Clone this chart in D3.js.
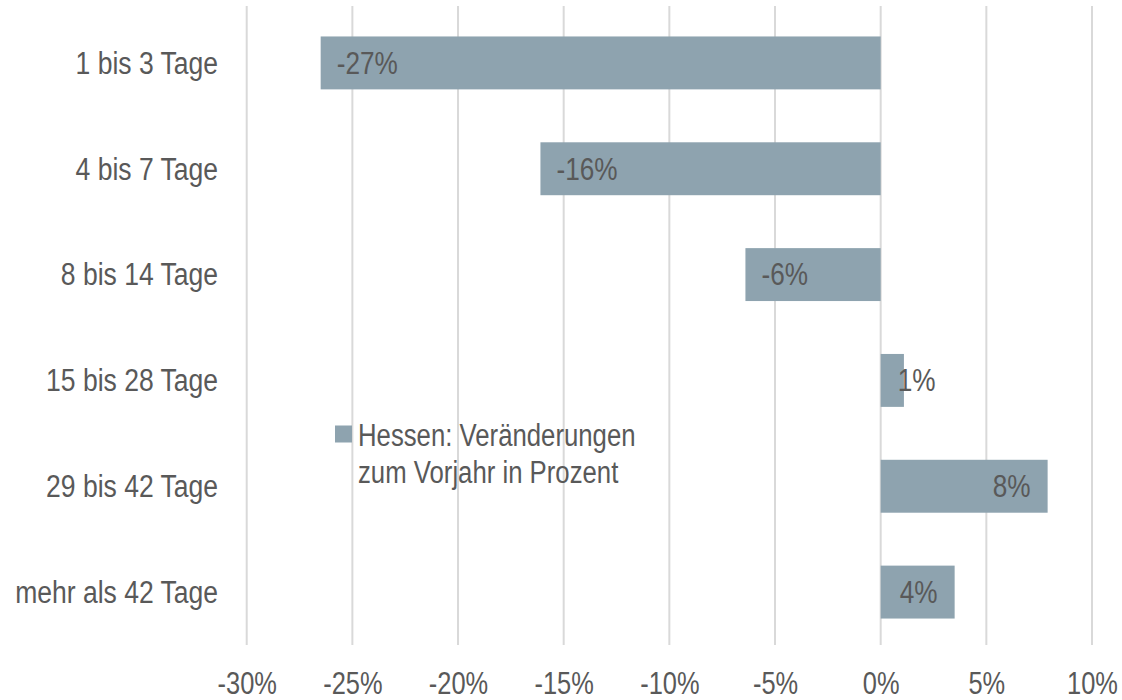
<!DOCTYPE html>
<html>
<head>
<meta charset="utf-8">
<script src="https://cdn.jsdelivr.net/npm/d3@7"></script>
<style>
  body { margin: 0; background: #fff; }
  text { font-family: "Liberation Sans Narrow", "Arial Narrow", "Liberation Sans", sans-serif; fill: #595959; }
</style>
</head>
<body>
<div id="chart_area"></div>
<script>
// categories and values (share of change vs. previous year)
var categories = ["1 bis 3 Tage", "4 bis 7 Tage", "8 bis 14 Tage", "15 bis 28 Tage", "29 bis 42 Tage", "mehr als 42 Tage"];
var values = [-0.265, -0.161, -0.064, 0.011, 0.079, 0.035];
var valueLabels = ["-27%", "-16%", "-6%", "1%", "8%", "4%"];
var ticks = [-0.30, -0.25, -0.20, -0.15, -0.10, -0.05, 0, 0.05, 0.10];
var legendLines = ["Hessen: Veränderungen", "zum Vorjahr in Prozent"];

var width = 1122, height = 700;
var barColor = "#8ea3af";
var narrowFactor = 0.845; // no narrow font installed, squeeze the regular one

var svg = d3.select("#chart_area").append("svg")
    .attr("width", width)
    .attr("height", height);

// squeeze text horizontally so it looks like a condensed face
function narrow(sel, f) {
    sel.each(function() {
        var w = this.getComputedTextLength();
        d3.select(this)
            .attr("textLength", w * (f || narrowFactor))
            .attr("lengthAdjust", "spacingAndGlyphs");
    });
}

// scales
var xScale = d3.scaleLinear()
    .domain([-0.30, 0.10])
    .range([246.7, 1092]);
var yScale = d3.scaleBand()
    .domain(categories)
    .range([10, 645])
    .paddingInner(0.5)
    .paddingOuter(0.25);

// vertical gridlines
svg.append("g").selectAll("line")
    .data(ticks)
    .enter().append("line")
    .attr("x1", function(d) { return xScale(d); })
    .attr("x2", function(d) { return xScale(d); })
    .attr("y1", 6)
    .attr("y2", 645)
    .attr("stroke", "#d9d9d9")
    .attr("stroke-width", 2);

// x axis labels
var xAxis = d3.axisBottom(xScale)
    .tickValues(ticks)
    .tickFormat(function(d) { return d3.format(".0%")(d).replace("−", "-"); })
    .tickSize(0)
    .tickPadding(0);
var gx = svg.append("g")
    .attr("transform", "translate(0,694)")
    .call(xAxis);
gx.select(".domain").remove();
gx.attr("font-family", null).attr("font-size", null);
gx.selectAll("text")
    .attr("dy", 0)
    .attr("font-size", 31)
    .attr("fill", null)
    .call(narrow, 0.82);

// bars
svg.append("g").selectAll("rect")
    .data(values)
    .enter().append("rect")
    .attr("x", function(d) { return Math.min(xScale(d), xScale(0)); })
    .attr("y", function(d, i) { return yScale(categories[i]); })
    .attr("width", function(d) { return Math.abs(xScale(d) - xScale(0)); })
    .attr("height", yScale.bandwidth())
    .attr("fill", barColor);

// category labels
svg.append("g").selectAll("text")
    .data(categories)
    .enter().append("text")
    .attr("x", 218)
    .attr("y", function(d) { return yScale(d) + yScale.bandwidth() / 2; })
    .attr("dy", "0.35em")
    .attr("text-anchor", "end")
    .attr("font-size", 31)
    .text(function(d) { return d; })
    .call(narrow, 0.855);

// value labels, placed at the end of the bar
var pad = 17;
svg.append("g").selectAll("text")
    .data(values)
    .enter().append("text")
    .attr("y", function(d, i) { return yScale(categories[i]) + yScale.bandwidth() / 2; })
    .attr("dy", "0.35em")
    .attr("font-size", 31)
    .text(function(d, i) { return valueLabels[i]; })
    .call(narrow)
    .each(function(d) {
        var t = d3.select(this);
        var w = +t.attr("textLength");
        if (d < 0) {
            t.attr("x", xScale(d) + pad - 1);
        } else {
            var start = xScale(d) - pad - w;
            if (start < xScale(0) + pad) start = xScale(0) + pad;
            t.attr("x", start);
        }
    });

// legend
var legend = svg.append("g");
legend.append("rect")
    .attr("x", 335)
    .attr("y", 425.5)
    .attr("width", 17)
    .attr("height", 17)
    .attr("fill", barColor);
legend.selectAll("text")
    .data(legendLines)
    .enter().append("text")
    .attr("x", 358)
    .attr("y", function(d, i) { return 445.5 + i * 37; })
    .attr("font-size", 31)
    .text(function(d) { return d; })
    .call(narrow, 0.83);
</script>
</body>
</html>
